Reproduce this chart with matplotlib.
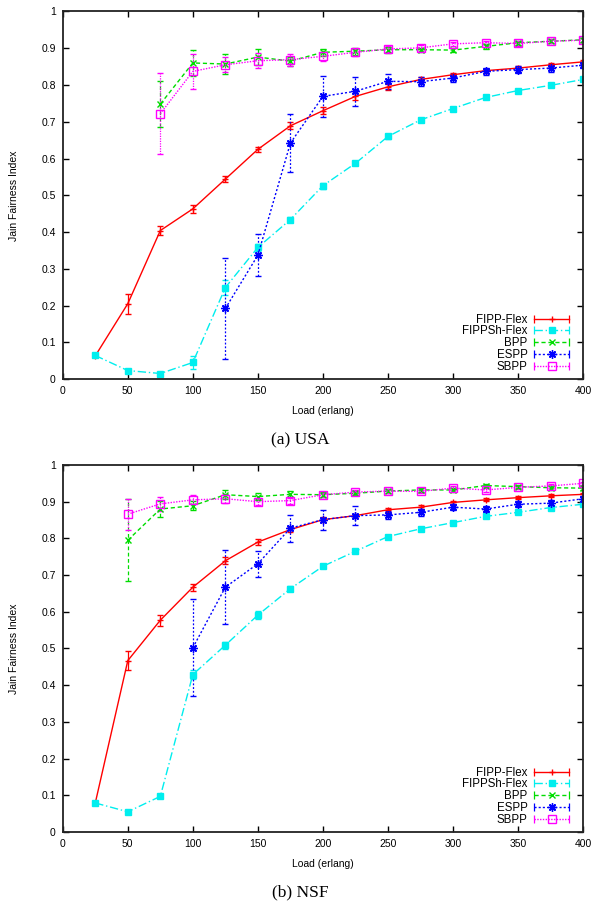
import matplotlib.pyplot as plt
from matplotlib.lines import Line2D
from matplotlib.legend_handler import HandlerLine2D, HandlerTuple

plt.rcParams['font.family'] = ['Liberation Sans', 'DejaVu Sans']

# ====== data ======
load = [25, 50, 75, 100, 125, 150, 175, 200, 225, 250, 275, 300, 325, 350, 375, 400]
series_names = ["FIPP-Flex", "FIPPSh-Flex", "BPP", "ESPP", "SBPP"]

# (a) USA
usa_fipp = [0.063, 0.205, 0.404, 0.463, 0.544, 0.625, 0.689, 0.730, 0.769, 0.795, 0.815, 0.828, 0.839, 0.846, 0.855, 0.863]
usa_fipp_err = [0.004, 0.027, 0.011, 0.011, 0.008, 0.007, 0.010, 0.010, 0.010, 0.008, 0.006, 0.006, 0.005, 0.005, 0.005, 0.005]
usa_fippsh = [0.064, 0.023, 0.015, 0.045, 0.249, 0.358, 0.434, 0.526, 0.587, 0.660, 0.705, 0.736, 0.766, 0.785, 0.799, 0.815]
usa_fippsh_err = [0.003, 0.004, 0.004, 0.018, 0.020, 0.010, 0.008, 0.008, 0.005, 0.008, 0.005, 0.004, 0.004, 0.004, 0.004, 0.004]
usa_bpp = [None, None, 0.748, 0.860, 0.857, 0.876, 0.865, 0.889, 0.892, 0.896, 0.896, 0.895, 0.905, 0.915, 0.919, 0.923]
usa_bpp_err = [0, 0, 0.063, 0.035, 0.027, 0.022, 0.012, 0.010, 0.010, 0.008, 0.006, 0.006, 0.006, 0.005, 0.005, 0.005]
usa_espp = [None, None, None, None, 0.192, 0.337, 0.642, 0.769, 0.783, 0.810, 0.809, 0.819, 0.837, 0.842, 0.846, 0.854]
usa_espp_err = [0, 0, 0, 0, 0.137, 0.057, 0.078, 0.056, 0.039, 0.020, 0.012, 0.012, 0.010, 0.010, 0.010, 0.008]
usa_sbpp = [None, None, 0.722, 0.837, 0.855, 0.866, 0.869, 0.878, 0.889, 0.898, 0.901, 0.912, 0.915, 0.913, 0.919, 0.922]
usa_sbpp_err = [0, 0, 0.110, 0.048, 0.020, 0.020, 0.016, 0.012, 0.010, 0.008, 0.008, 0.006, 0.006, 0.006, 0.005, 0.005]

# (b) NSF
nsf_fipp = [0.079, 0.467, 0.577, 0.667, 0.739, 0.790, 0.824, 0.851, 0.862, 0.878, 0.885, 0.898, 0.905, 0.911, 0.916, 0.920]
nsf_fipp_err = [0.003, 0.027, 0.015, 0.010, 0.010, 0.007, 0.006, 0.006, 0.005, 0.005, 0.005, 0.005, 0.004, 0.004, 0.004, 0.004]
nsf_fippsh = [0.079, 0.055, 0.097, 0.429, 0.509, 0.591, 0.663, 0.724, 0.765, 0.805, 0.826, 0.843, 0.860, 0.871, 0.884, 0.893]
nsf_fippsh_err = [0.003, 0.003, 0.003, 0.012, 0.010, 0.010, 0.006, 0.005, 0.005, 0.004, 0.004, 0.004, 0.004, 0.004, 0.004, 0.004]
nsf_bpp = [None, 0.795, 0.880, 0.889, 0.919, 0.914, 0.920, 0.919, 0.923, 0.929, 0.932, 0.932, 0.944, 0.941, 0.938, 0.937]
nsf_bpp_err = [0, 0.112, 0.021, 0.012, 0.012, 0.010, 0.008, 0.007, 0.006, 0.006, 0.005, 0.005, 0.005, 0.005, 0.005, 0.005]
nsf_espp = [None, None, None, 0.502, 0.667, 0.731, 0.828, 0.851, 0.862, 0.864, 0.871, 0.885, 0.880, 0.893, 0.896, 0.908]
nsf_espp_err = [0, 0, 0, 0.132, 0.101, 0.035, 0.037, 0.027, 0.026, 0.010, 0.010, 0.008, 0.008, 0.008, 0.008, 0.008]
nsf_sbpp = [None, 0.866, 0.894, 0.905, 0.908, 0.900, 0.903, 0.919, 0.926, 0.929, 0.928, 0.937, 0.932, 0.939, 0.943, 0.950]
nsf_sbpp_err = [0, 0.042, 0.020, 0.012, 0.012, 0.010, 0.008, 0.006, 0.006, 0.005, 0.005, 0.005, 0.005, 0.005, 0.005, 0.005]

# ====== styles (gnuplot look) ======
styles = [
    dict(color="#ff0000", marker="+", ms=5, mfc="#ff0000", ls="-"),
    dict(color="#00eeee", marker="s", ms=5, mfc="#00eeee", ls=(0, (6, 2, 1, 2))),
    dict(color="#00dd00", marker="x", ms=5, mfc="#00dd00", ls=(0, (3, 2))),
    dict(color="#0000ff", marker=(8, 2, 0), ms=6, mfc="#0000ff", ls=(0, (1.5, 1.5))),
    dict(color="#ff00ff", marker="s", ms=6, mfc="none", ls=(0, (1, 1))),
]


def panel(ax, data):
    handles, hmap = [], {}
    for name, (y, e), st in zip(series_names, data, styles):
        xs = [x for x, v in zip(load, y) if v is not None]
        ys = [v for v in y if v is not None]
        es = [d for d, v in zip(e, y) if v is not None]
        eb = ax.errorbar(xs, ys, yerr=es, color=st["color"], marker=st["marker"],
                         ms=st["ms"], mfc=st["mfc"], mec=st["color"], mew=1.0,
                         lw=1.0, elinewidth=0.9, capsize=2.5, capthick=0.9)
        eb[0].set_linestyle(st["ls"])
        for bar in eb[2]:
            bar.set_linestyle(st["ls"])
        # legend sample: horizontal bar with caps at both ends, marker in the middle
        caps = Line2D([], [], color=st["color"], ls=st["ls"], lw=1.0, marker="|", ms=6, mew=0.9)
        mark = Line2D([], [], color=st["color"], ls="none", marker=st["marker"],
                      ms=st["ms"], mfc=st["mfc"], mec=st["color"], mew=1.0)
        hmap[caps] = HandlerLine2D(numpoints=2, marker_pad=0.0)
        hmap[mark] = HandlerLine2D(numpoints=1)
        handles.append((caps, mark))
    hmap[tuple] = HandlerTuple(ndivide=1, pad=0)
    ax.set_xlim(0, 400)
    ax.set_ylim(0, 1)
    ax.set_xticks(range(0, 401, 50))
    ax.set_yticks([i / 10 for i in range(11)])
    ax.set_yticklabels(["0", "0.1", "0.2", "0.3", "0.4", "0.5", "0.6", "0.7", "0.8", "0.9", "1"])
    ax.tick_params(direction="in", top=True, right=True, length=4, width=1, labelsize=7.5, pad=5)
    for sp in ax.spines.values():
        sp.set_linewidth(1.3)
        sp.set_color("#222222")
    ax.set_xlabel("Load (erlang)", fontsize=7.5, labelpad=7)
    ax.set_ylabel("Jain Fairness Index", fontsize=7.5, labelpad=16)
    leg = ax.legend(handles, series_names, handler_map=hmap, loc="lower right",
                    bbox_to_anchor=(0.985, 0.0), markerfirst=False, frameon=False,
                    fontsize=8.3, handlelength=3.0, handletextpad=0.6,
                    labelspacing=-0.02, borderaxespad=0.15)
    return leg


fig = plt.figure(figsize=(5.92, 9.05), dpi=100)
ax1 = fig.add_axes([0.106, 0.5812, 0.879, 0.4061])
ax2 = fig.add_axes([0.106, 0.0807, 0.879, 0.4055])

panel(ax1, [(usa_fipp, usa_fipp_err), (usa_fippsh, usa_fippsh_err), (usa_bpp, usa_bpp_err),
            (usa_espp, usa_espp_err), (usa_sbpp, usa_sbpp_err)])
panel(ax2, [(nsf_fipp, nsf_fipp_err), (nsf_fippsh, nsf_fippsh_err), (nsf_bpp, nsf_bpp_err),
            (nsf_espp, nsf_espp_err), (nsf_sbpp, nsf_sbpp_err)])

fig.text(300 / 592, 1 - 440 / 905, "(a) USA", ha="center", va="center",
         fontsize=12.5, family="Liberation Serif")
fig.text(300 / 592, 1 - 892 / 905, "(b) NSF", ha="center", va="center",
         fontsize=12.5, family="Liberation Serif")

fig.savefig("out.png", dpi=100)
